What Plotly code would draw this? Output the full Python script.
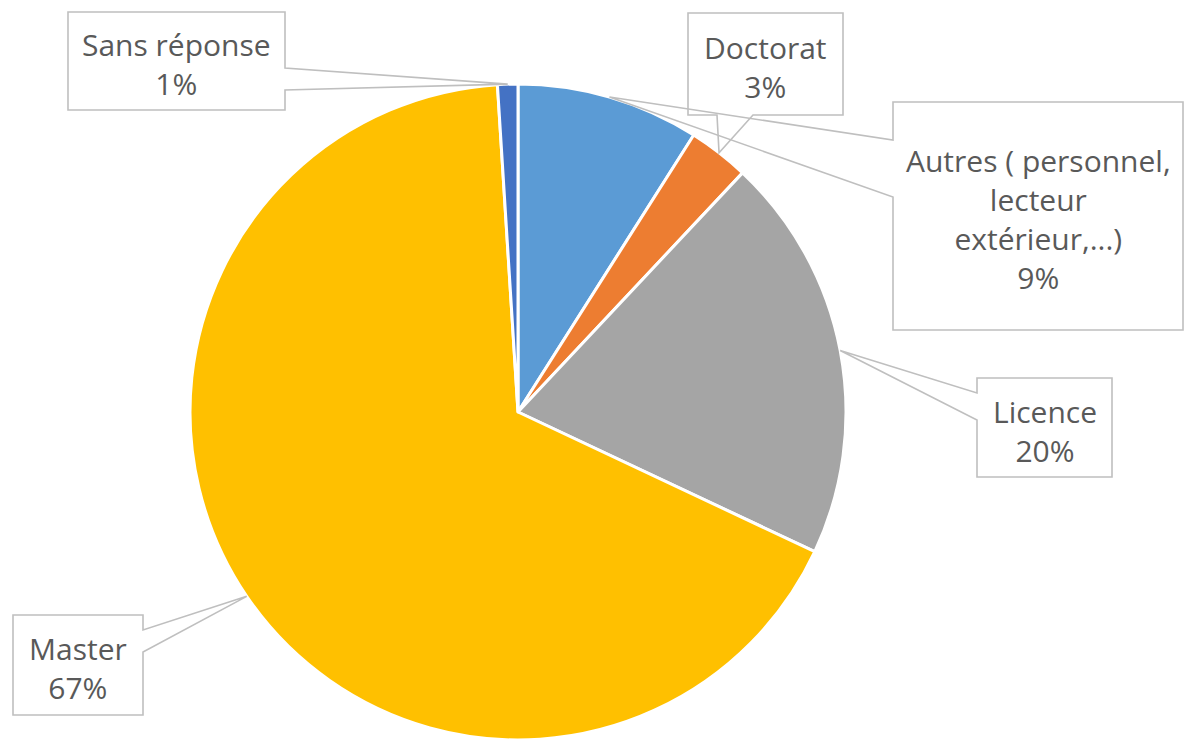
import math
import plotly.graph_objects as go

# Répartition des répondants par catégorie
categories = ["Autres ( personnel,<br>lecteur<br>extérieur,...)", "Doctorat", "Licence", "Master", "Sans réponse"]
short_names = ["Autres", "Doctorat", "Licence", "Master", "Sans réponse"]
values = [9, 3, 20, 67, 1]
colors = ["#5B9BD5", "#ED7D31", "#A5A5A5", "#FFC000", "#4472C4"]

W, H = 1185, 743
CX, CY, R = 518, 412, 328  # pie centre and radius in pixels

# callout boxes (pixels): box, side carrying the pointer, pointer base offsets along that side
callouts = {
    "Sans réponse": dict(box=(68, 12, 285, 110), side="right", base=(68, 90)),
    "Doctorat": dict(box=(688, 13, 843, 115), side="bottom", base=(717, 753)),
    "Autres": dict(box=(893, 102, 1183, 330), side="left", base=(140, 197)),
    "Licence": dict(box=(977, 378, 1112, 477), side="left", base=(393, 420)),
    "Master": dict(box=(13, 615, 143, 715), side="right", base=(630, 652)),
}


def px(x, y):
    return x / W, 1 - y / H


def path_str(points):
    s = ""
    for i, (x, y) in enumerate(points):
        u, v = px(x, y)
        s += ("M" if i == 0 else " L") + f" {u:.5f},{v:.5f}"
    return s + " Z"


fig = go.Figure()
fig.add_trace(go.Pie(
    labels=short_names,
    values=values,
    sort=False,
    direction="clockwise",
    rotation=0,
    marker=dict(colors=colors, line=dict(color="white", width=3)),
    textinfo="none",
    hoverinfo="label+percent",
    showlegend=False,
    domain=dict(x=[(CX - R) / W, (CX + R) / W], y=[1 - (CY + R) / H, 1 - (CY - R) / H]),
))

total = sum(values)
shapes = []
annotations = []
cum = 0.0
for name, label, val in zip(short_names, categories, values):
    mid = (cum + val / 2) / total * 2 * math.pi
    cum += val
    tx = CX + R * math.sin(mid)
    ty = CY - R * math.cos(mid)
    c = callouts[name]
    x0, y0, x1, y1 = c["box"]
    a, b = c["base"]
    if c["side"] == "right":
        pts = [(x0, y0), (x1, y0), (x1, a), (tx, ty), (x1, b), (x1, y1), (x0, y1)]
    elif c["side"] == "left":
        pts = [(x0, y0), (x1, y0), (x1, y1), (x0, y1), (x0, b), (tx, ty), (x0, a)]
    else:  # bottom
        pts = [(x0, y0), (x1, y0), (x1, y1), (b, y1), (tx, ty), (a, y1), (x0, y1)]
    shapes.append(dict(type="path", xref="paper", yref="paper", path=path_str(pts),
                       line=dict(color="#BFBFBF", width=1.6), fillcolor="rgba(255,255,255,0)"))
    u, v = px((x0 + x1) / 2, (y0 + y1) / 2 + 3)
    annotations.append(dict(x=u, y=v, xref="paper", yref="paper", text=f"{label}<br>{val}%",
                            showarrow=False, xanchor="center", yanchor="middle",
                            font=dict(family="Open Sans", size=30, color="#595959")))

fig.update_layout(
    width=W, height=H, autosize=False,
    margin=dict(l=0, r=0, t=0, b=0),
    paper_bgcolor="white", plot_bgcolor="white",
    shapes=shapes, annotations=annotations,
)

fig.write_html("out.html")
